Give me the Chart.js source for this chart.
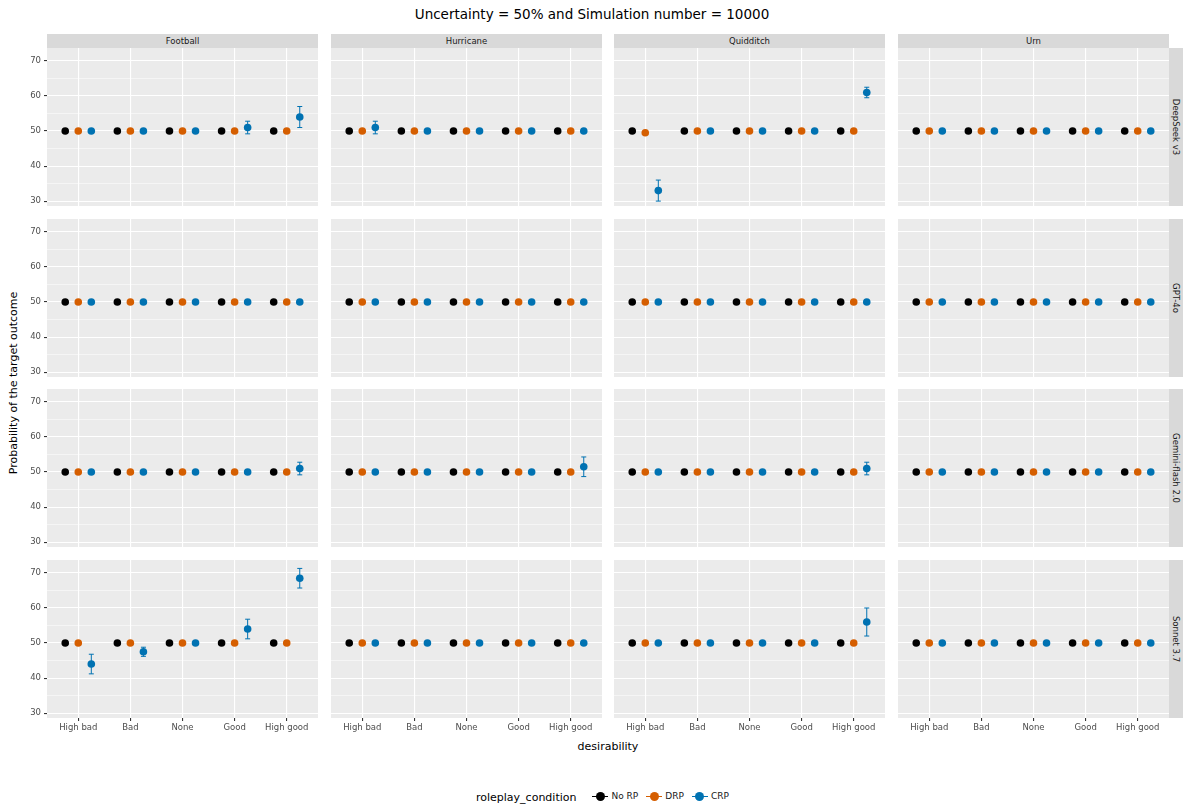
<!DOCTYPE html>
<html>
<head>
<meta charset="utf-8">
<script src="https://cdn.jsdelivr.net/npm/chart.js@4/dist/chart.umd.min.js"></script>
<style>
  body { margin: 0; width: 1184px; height: 809px; background: #fff; font-family: "DejaVu Sans", sans-serif; position: relative; overflow: hidden; }
  .abs { position: absolute; }
  .strip { position: absolute; background: #D9D9D9; color: #1A1A1A; font-size: 8.5px; display: flex; align-items: center; justify-content: center; }
  .rstrip span { transform: rotate(90deg); white-space: nowrap; }
  canvas { position: absolute; }
  .leg { display: inline-flex; align-items: center; margin-right: 8px; font-size: 9px; color: #1A1A1A; }
  .key { position: relative; width: 16px; height: 10px; margin-right: 3px; }
  .key i { position: absolute; left: 0; right: 0; top: 4.5px; height: 1px; }
  .key b { position: absolute; left: 3.5px; top: 0.5px; width: 9px; height: 9px; border-radius: 50%; }
</style>
</head>
<body>
<div class="abs" style="left:0;width:1184px;top:6px;text-align:center;font-size:13.5px;color:#000">Uncertainty = 50% and Simulation number = 10000</div>
<div class="abs" style="left:608px;top:740px;transform:translateX(-50%);font-size:11px;color:#000">desirability</div>
<div class="abs" style="left:13px;top:383px;transform:translate(-50%,-50%) rotate(-90deg);font-size:11px;color:#000;white-space:nowrap">Probability of the target outcome</div>
<div class="abs" style="left:476px;top:791px;font-size:11px;color:#000;display:flex;align-items:center">
  <span style="margin-right:16px">roleplay_condition</span>
  <span id="legend"></span>
</div>
<div id="root"></div>
<script>
const desirability = ['High bad', 'Bad', 'None', 'Good', 'High good'];
const scenarios = ['Football', 'Hurricane', 'Quidditch', 'Urn'];
const models = ['DeepSeek v3', 'GPT-4o', 'Gemini-flash 2.0', 'Sonnet 3.7'];
const conditions = ['No RP', 'DRP', 'CRP'];
const condColors = ['#000000', '#D55E00', '#0072B2'];

// values per model: [scenario][desirability]
const noRP = [50, 50, 50, 50, 50];
const flat = [[50,50,50,50,50],[50,50,50,50,50],[50,50,50,50,50],[50,50,50,50,50]];
const noErr = [[0,0,0,0,0],[0,0,0,0,0],[0,0,0,0,0],[0,0,0,0,0]];
const drpDeepSeek = [[50,50,50,50,50],[50,50,50,50,50],[49.5,50,50,50,50],[50,50,50,50,50]];
const crpDeepSeek = [[50,50,50,51,54],[51,50,50,50,50],[33,50,50,50,61],[50,50,50,50,50]];
const errDeepSeek = [[0,0,0,1.8,3],[1.8,0,0,0,0],[3,0,0,0,1.5],[0,0,0,0,0]];
const crpGPT = flat;
const errGPT = noErr;
const crpGemini = [[50,50,50,50,51],[50,50,50,50,51.5],[50,50,50,50,51],[50,50,50,50,50]];
const errGemini = [[0,0,0,0,1.8],[0,0,0,0,2.8],[0,0,0,0,1.8],[0,0,0,0,0]];
const crpSonnet = [[44,47.5,50,54,68.5],[50,50,50,50,50],[50,50,50,50,56],[50,50,50,50,50]];
const errSonnet = [[2.8,1.3,0,2.8,2.8],[0,0,0,0,0],[0,0,0,0,4],[0,0,0,0,0]];

const drpByModel = [drpDeepSeek, flat, flat, flat];
const crpByModel = [crpDeepSeek, crpGPT, crpGemini, crpSonnet];
const errByModel = [errDeepSeek, errGPT, errGemini, errSonnet];
const yTicks = [30, 35, 40, 45, 50, 55, 60, 65, 70];

const colLeft = [47, 331, 614, 898], panelW = 271;
const rowTop = [48, 219, 389, 560], panelH = 158;
const dodge = 0.25;

const root = document.getElementById('root');

// legend
const leg = document.getElementById('legend');
conditions.forEach((c, i) => {
  leg.innerHTML += `<span class="leg"><span class="key"><i style="background:${condColors[i]}"></i><b style="background:${condColors[i]}"></b></span>${c}</span>`;
});

// strips
scenarios.forEach((s, c) => {
  const d = document.createElement('div');
  d.className = 'strip';
  d.style.cssText = `left:${colLeft[c]}px;top:34px;width:${panelW}px;height:14px`;
  d.textContent = s;
  root.appendChild(d);
});
models.forEach((m, r) => {
  const d = document.createElement('div');
  d.className = 'strip rstrip';
  d.style.cssText = `left:1169px;top:${rowTop[r]}px;width:14px;height:${panelH}px`;
  d.innerHTML = `<span>${m}</span>`;
  root.appendChild(d);
});

const errorBars = {
  id: 'errorBars',
  afterDatasetsDraw(chart) {
    const errs = chart.options.plugins.errorBars.errs;
    const ds = chart.data.datasets[2];
    const { x, y } = chart.scales;
    const ctx = chart.ctx;
    ctx.save();
    ctx.strokeStyle = condColors[2];
    ctx.lineWidth = 1;
    ds.data.forEach((p, i) => {
      if (!errs[i]) return;
      const px = x.getPixelForValue(p.x);
      const y1 = y.getPixelForValue(p.y - errs[i]);
      const y2 = y.getPixelForValue(p.y + errs[i]);
      ctx.beginPath();
      ctx.moveTo(px, y1); ctx.lineTo(px, y2);
      ctx.moveTo(px - 2.5, y1); ctx.lineTo(px + 2.5, y1);
      ctx.moveTo(px - 2.5, y2); ctx.lineTo(px + 2.5, y2);
      ctx.stroke();
    });
    ctx.restore();
  }
};

const leftExtra = 28, bottomExtra = 20;
const noPad = sc => { sc.paddingLeft = 0; sc.paddingRight = 0; sc.paddingTop = 0; sc.paddingBottom = 0; };

models.forEach((m, r) => {
  scenarios.forEach((s, c) => {
    const isLeft = c === 0, isBottom = r === 3;
    const le = isLeft ? leftExtra : 0, be = isBottom ? bottomExtra : 0;
    const cv = document.createElement('canvas');
    cv.style.left = (colLeft[c] - le) + 'px';
    cv.style.top = rowTop[r] + 'px';
    cv.style.width = (panelW + le) + 'px';
    cv.style.height = (panelH + be) + 'px';
    cv.width = panelW + le; cv.height = panelH + be;
    root.appendChild(cv);

    const series = [noRP, drpByModel[r][c], crpByModel[r][c]];
    const datasets = series.map((vals, k) => ({
      label: conditions[k],
      data: vals.map((v, i) => ({ x: i + 1 + (k - 1) * dodge, y: v })),
      backgroundColor: condColors[k],
      borderColor: condColors[k],
      pointRadius: 3.8,
      pointBorderWidth: 0
    }));

    new Chart(cv, {
      type: 'scatter',
      data: { datasets },
      plugins: [errorBars, {
        id: 'bg',
        beforeDraw(chart) {
          const a = chart.chartArea, ctx = chart.ctx;
          ctx.save(); ctx.fillStyle = '#EBEBEB';
          ctx.fillRect(a.left, a.top, a.right - a.left, a.bottom - a.top);
          ctx.restore();
        }
      }],
      options: {
        responsive: false,
        animation: false,
        devicePixelRatio: 1,
        layout: { padding: 0, autoPadding: false },
        clip: false,
        plugins: {
          legend: { display: false },
          tooltip: { enabled: false },
          errorBars: { errs: errByModel[r][c] }
        },
        scales: {
          x: {
            type: 'linear', min: 0.4, max: 5.6,
            afterBuildTicks: sc => { sc.ticks = desirability.map((d, i) => ({ value: i + 1 })); },
            afterFit: sc => { sc.height = be; noPad(sc); },
            border: { display: false },
            grid: { color: '#FFFFFF', lineWidth: 1.1, drawTicks: isBottom, tickLength: 3, tickColor: '#333333' },
            ticks: { display: isBottom, color: '#4D4D4D', font: { family: 'DejaVu Sans', size: 8.5 }, padding: 2, maxRotation: 0,
                     callback: v => desirability[Math.round(v) - 1] }
          },
          y: {
            type: 'linear', min: 28.6, max: 73.7,
            afterBuildTicks: sc => { sc.ticks = yTicks.map(v => ({ value: v })); },
            afterFit: sc => { sc.width = le; noPad(sc); },
            border: { display: false },
            grid: {
              color: '#FFFFFF',
              lineWidth: ctx => (ctx.tick && ctx.tick.value % 10 === 0) ? 1.1 : 0.5,
              drawTicks: isLeft, tickLength: 3, tickColor: ctx => (ctx.tick && ctx.tick.value % 10 === 0) ? '#333333' : 'rgba(0,0,0,0)'
            },
            ticks: { display: isLeft, color: '#4D4D4D', font: { family: 'DejaVu Sans', size: 8.5 }, padding: 3,
                     callback: v => v % 10 === 0 ? v : '' }
          }
        }
      }
    });
  });
});
</script>
</body>
</html>
